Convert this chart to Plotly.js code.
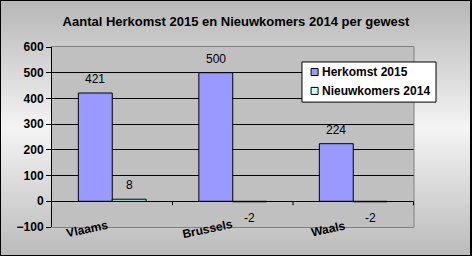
<!DOCTYPE html>
<html>
<head>
<meta charset="utf-8">
<script src="https://cdn.plot.ly/plotly-3.0.1.min.js"></script>
<style>
  html, body { margin: 0; padding: 0; }
  #wrap { position: relative; width: 472px; height: 256px;
    background: linear-gradient(to bottom, #b6b6b6 0%, #f4f4f4 50%, #bababa 100%); }
  #frame { position: absolute; left: 0; top: 0; width: 472px; height: 256px;
    box-sizing: border-box; border: 1px solid #000; border-right-width: 2px;
    pointer-events: none; }
</style>
</head>
<body>
<div id="wrap"><div id="chart"></div><div id="frame"></div></div>
<script>
const categories = ["Vlaams", "Brussels", "Waals"];
const herkomst2015 = [421, 500, 224];
const nieuwkomers2014 = [8, -2, -2];
const seriesNames = ["Herkomst 2015", "Nieuwkomers 2014"];
const seriesColors = ["#9999ff", "#ccffff"];
const yTicks = [-100, 0, 100, 200, 300, 400, 500, 600];

const FONT = "Liberation Sans, Arial, sans-serif";
const seriesValues = [herkomst2015, nieuwkomers2014];

const traces = seriesValues.map((vals, s) => ({
  type: "bar", name: seriesNames[s], x: categories, y: vals,
  marker: { color: seriesColors[s], line: { color: "#000", width: 1 } },
  hoverinfo: "skip", showlegend: false
}));

const annotations = [];
// data labels
seriesValues.forEach((vals, s) => {
  vals.forEach((v, i) => {
    annotations.push({
      x: categories[i], y: v, xref: "x", yref: "y",
      text: String(v), showarrow: false,
      xshift: s === 0 ? -17 : 17,
      yshift: v >= 0 ? 14 : -16,
      font: { family: FONT, size: 12, color: "#000" }
    });
  });
});
// category labels
categories.forEach((c) => {
  annotations.push({
    x: c, y: 0, xref: "x", yref: "paper", text: c, showarrow: false,
    textangle: -12, xshift: -25, yshift: -2, yanchor: "middle",
    font: { family: FONT, size: 12, color: "#000", weight: "bold" }
  });
});

const shapes = [];
// right border of plot area
shapes.push({ type: "line", xref: "paper", yref: "paper", x0: 1, x1: 1, y0: 0, y1: 1,
  line: { color: "#808080", width: 1 } });
// category boundary tick marks on the zero line
for (let i = 0; i < categories.length; i++) {
  shapes.push({ type: "line", xref: "x", yref: "y", x0: i + 0.5, x1: i + 0.5,
    ysizemode: "pixel", yanchor: 0, y0: 0, y1: -4, line: { color: "#000", width: 1 } });
}

// legend box (drawn with shapes + annotations)
const LEG = { x0: 0.6906, x1: 1.0608, y0: 0.694, y1: 0.9167 };
shapes.push({ type: "rect", xref: "paper", yref: "paper",
  x0: LEG.x0, x1: LEG.x1, y0: LEG.y0, y1: LEG.y1,
  fillcolor: "#fff", line: { color: "#000", width: 1 }, layer: "above" });
const legItemY = [0.861, 0.756];
seriesNames.forEach((n, s) => {
  shapes.push({ type: "rect", xref: "paper", yref: "paper",
    xsizemode: "pixel", ysizemode: "pixel", xanchor: 0.7254, yanchor: legItemY[s],
    x0: -3.5, x1: 3.5, y0: -3.5, y1: 3.5,
    fillcolor: seriesColors[s], line: { color: "#000", width: 1 }, layer: "above" });
  annotations.push({ x: 0.7403, y: legItemY[s], xref: "paper", yref: "paper",
    xanchor: "left", yanchor: "middle", text: n, showarrow: false,
    font: { family: FONT, size: 12, color: "#000", weight: "bold" } });
});

const layout = {
  width: 472, height: 256,
  margin: { l: 52, r: 58, t: 47, b: 29 },
  paper_bgcolor: "rgba(0,0,0,0)",
  plot_bgcolor: "#c0c0c0",
  showlegend: false,
  title: { text: "Aantal Herkomst 2015 en Nieuwkomers 2014 per gewest",
    x: 0.5, xref: "container", y: 0.918, yref: "container", yanchor: "middle",
    font: { family: FONT, size: 13, color: "#000", weight: "bold" } },
  barmode: "group", bargap: 0.437, bargroupgap: 0,
  xaxis: { showticklabels: false, ticks: "", showgrid: false, zeroline: false,
    showline: true, linecolor: "#808080", linewidth: 1, mirror: true, fixedrange: true },
  yaxis: { range: [-100, 600], tickvals: yTicks, ticks: "outside", ticklen: 5,
    tickcolor: "#000", showgrid: true, gridcolor: "#000", gridwidth: 1,
    zeroline: true, zerolinecolor: "#000", zerolinewidth: 1,
    showline: true, linecolor: "#000", linewidth: 1,
    tickfont: { family: FONT, size: 12, color: "#000", weight: "bold" }, fixedrange: true },
  annotations: annotations,
  shapes: shapes
};

Plotly.newPlot("chart", traces, layout, { displayModeBar: false, staticPlot: true });
</script>
</body>
</html>
